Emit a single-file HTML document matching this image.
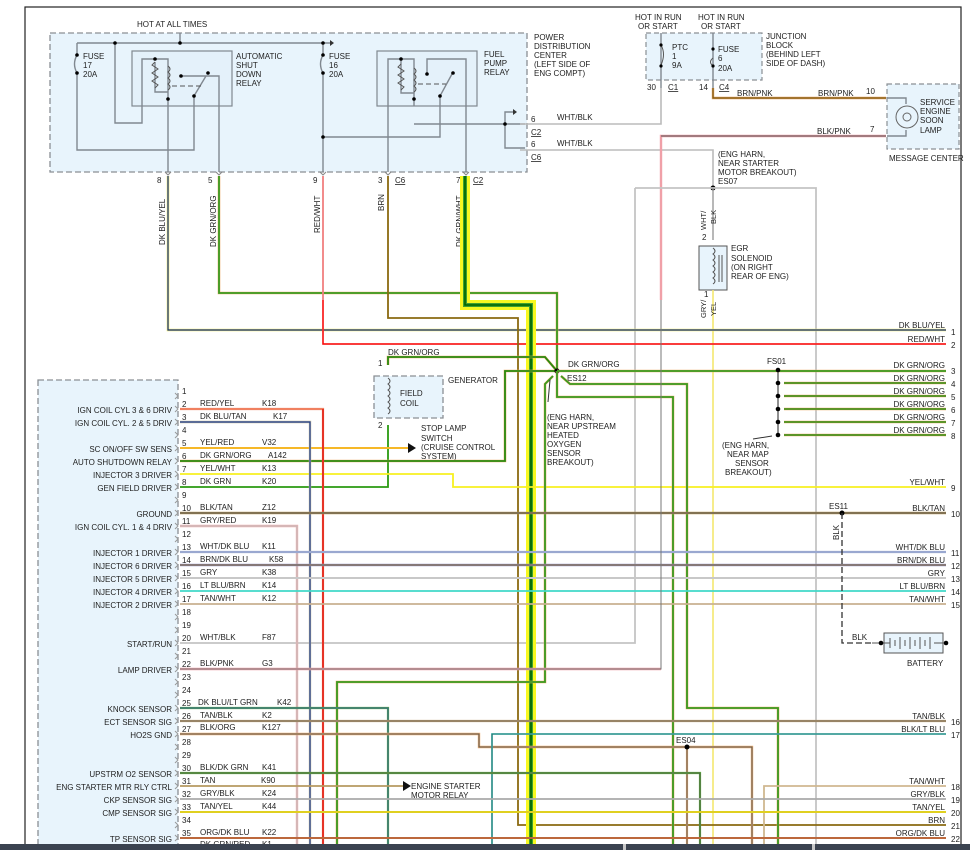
<!DOCTYPE html>
<html><head><meta charset="utf-8"><style>
html,body{margin:0;padding:0;background:#fff}
svg{display:block}
text{font-family:"Liberation Sans",sans-serif;font-size:8px;fill:#222}
.r{text-anchor:end}
.g{stroke:#808890;stroke-width:1.4;fill:none}
.box{fill:#e8f4fc;stroke:#8a8f94;stroke-width:1.3;stroke-dasharray:6,3}
</style></head><body>
<svg width="970" height="850" viewBox="0 0 970 850" xmlns="http://www.w3.org/2000/svg">
<rect x="25" y="7" width="936" height="845" fill="none" stroke="#222" stroke-width="1.2"/>

<!-- PDC -->
<rect class="box" x="50" y="33" width="477" height="139"/>
<text x="137" y="27">HOT AT ALL TIMES</text>
<path class="g" d="M180 33V43M77 43H323M323 43H330M77 43V55M77 73V150H194V106M115 43V123H142V106M323 43V55M323 73V172M323 137H440V106"/>
<path d="M330 40l4 3l-4 3z" fill="#333"/>
<path class="g" d="M77 55q-5 9 0 18M323 55q-5 9 0 18"/>
<circle cx="77" cy="55" r="1.8"/><circle cx="77" cy="73" r="1.8"/><circle cx="115" cy="43" r="1.8"/><circle cx="180" cy="43" r="1.8"/>
<circle cx="323" cy="43" r="1.8"/><circle cx="323" cy="55" r="1.8"/><circle cx="323" cy="73" r="1.8"/><circle cx="323" cy="137" r="1.8"/>
<text x="83" y="59">FUSE</text><text x="83" y="68">17</text><text x="83" y="77">20A</text>
<text x="329" y="59">FUSE</text><text x="329" y="68">16</text><text x="329" y="77">20A</text>
<!-- ASD relay -->
<rect x="132" y="51" width="100" height="55" fill="#e4f1fa" stroke="#808890" stroke-width="1.2"/>
<path class="g" d="M142 106V59H168V106M181 76H219V106M194 106V96L206 76M168 59V66M155 62v30h13"/>
<path d="M155 62l-3 3l6 4l-6 4l6 4l-6 4l6 4l-3 3" fill="none" stroke="#555"/>
<path d="M168 66q4 3 0 6q4 3 0 6q4 3 0 6q4 3 0 6" fill="none" stroke="#555"/>
<path d="M172 86H204" stroke="#555" stroke-dasharray="5,3"/>
<circle cx="155" cy="59" r="1.8"/><circle cx="181" cy="76" r="1.8"/><circle cx="208" cy="73" r="1.8"/><circle cx="194" cy="96" r="1.8"/><circle cx="168" cy="99" r="1.8"/>
<text x="236" y="59">AUTOMATIC</text><text x="236" y="68">SHUT</text><text x="236" y="77">DOWN</text><text x="236" y="86">RELAY</text>
<!-- FP relay -->
<rect x="377" y="51" width="100" height="55" fill="#e4f1fa" stroke="#808890" stroke-width="1.2"/>
<path class="g" d="M388 106V59H414V106M427 74V59H466V106M440 106V96L452 74M414 59V66M401 59v34h13M414 124H525M505 124V112H513M505 124V148H525"/>
<path d="M401 64l-3 3l6 4l-6 4l6 4l-6 4l6 4l-3 3" fill="none" stroke="#555"/>
<path d="M414 68q4 3 0 6q4 3 0 6q4 3 0 6q4 3 0 6" fill="none" stroke="#555"/>
<path d="M418 84H446" stroke="#555" stroke-dasharray="5,3"/>
<path d="M513 109l4 3l-4 3z" fill="#333"/>
<circle cx="401" cy="59" r="1.8"/><circle cx="427" cy="74" r="1.8"/><circle cx="453" cy="73" r="1.8"/><circle cx="440" cy="96" r="1.8"/><circle cx="414" cy="99" r="1.8"/><circle cx="505" cy="124" r="1.8"/>
<text x="484" y="57">FUEL</text><text x="484" y="66">PUMP</text><text x="484" y="75">RELAY</text>
<text x="534" y="40">POWER</text><text x="534" y="49">DISTRIBUTION</text><text x="534" y="58">CENTER</text><text x="534" y="67">(LEFT SIDE OF</text><text x="534" y="76">ENG COMPT)</text>
<path class="g" d="M168 106V172M219 106V172M388 106V172M466 106V172"/>
<g fill="none" stroke="#888" stroke-width="1"><path d="M165 172l3 3l3-3M216 172l3 3l3-3M320 172l3 3l3-3M385 172l3 3l3-3M463 172l3 3l3-3"/></g>
<text x="157" y="183">8</text><text x="208" y="183">5</text><text x="313" y="183">9</text><text x="378" y="183">3</text><text x="395" y="183" text-decoration="underline">C6</text><text x="456" y="183">7</text><text x="473" y="183" text-decoration="underline">C2</text>
<text x="531" y="122">6</text><text x="531" y="135" text-decoration="underline">C2</text><text x="531" y="147">6</text><text x="531" y="160" text-decoration="underline">C6</text>
<text x="557" y="120">WHT/BLK</text><text x="557" y="146">WHT/BLK</text>

<!-- Junction block -->
<path d="M646 33H762V80H646Z" fill="#e8f4fc" stroke="#8a8f94" stroke-dasharray="5,3" stroke-width="1.2"/>
<text x="635" y="20">HOT IN RUN</text><text x="638" y="29">OR START</text>
<text x="698" y="20">HOT IN RUN</text><text x="701" y="29">OR START</text>
<path class="g" d="M661 33V88M713 33V88"/>
<path d="M661 45q5 9 0 20M713 58q-5 4 0 8" fill="none" stroke="#555"/>
<circle cx="661" cy="45" r="1.6"/><circle cx="661" cy="66" r="1.6"/><circle cx="713" cy="49" r="1.6"/><circle cx="713" cy="66" r="1.6"/>
<text x="672" y="50">PTC</text><text x="672" y="59">1</text><text x="672" y="68">9A</text>
<text x="718" y="52">FUSE</text><text x="718" y="61">6</text><text x="718" y="71">20A</text>
<text x="766" y="39">JUNCTION</text><text x="766" y="48">BLOCK</text><text x="766" y="57">(BEHIND LEFT</text><text x="766" y="66">SIDE OF DASH)</text>
<text x="647" y="90">30</text><text x="668" y="90" text-decoration="underline">C1</text><text x="699" y="90">14</text><text x="719" y="90" text-decoration="underline">C4</text>
<path d="M713 88V98H886" fill="none" stroke="#e8a060" stroke-width="2.4"/><path d="M713 88V98H886" fill="none" stroke="#7a5a10" stroke-width="1.2"/>
<text x="737" y="96">BRN/PNK</text><text x="818" y="96">BRN/PNK</text><text x="866" y="94">10</text>
<path d="M661 88V124H520" fill="none" stroke="#bbb" stroke-width="1.6"/>
<path d="M520 150H713V188" fill="none" stroke="#bbb" stroke-width="1.6"/>
<!-- message center -->
<path d="M887 84H959V149H887Z" fill="#e8f4fc" stroke="#8a8f94" stroke-dasharray="5,3" stroke-width="1.2"/>
<path class="g" d="M887 98H906V104M887 136H906V130"/>
<circle cx="907" cy="117" r="11" fill="none" stroke="#666"/><circle cx="907" cy="117" r="4" fill="none" stroke="#666"/>
<text x="920" y="105">SERVICE</text><text x="920" y="114">ENGINE</text><text x="920" y="123">SOON</text><text x="920" y="133">LAMP</text>
<text x="889" y="161">MESSAGE CENTER</text>
<path d="M661 300V136H886" fill="none" stroke="#f0a0a8" stroke-width="2.4"/><path d="M661 136H886" fill="none" stroke="#555" stroke-width="1"/>
<text x="817" y="134">BLK/PNK</text><text x="870" y="132">7</text>
<text x="718" y="157">(ENG HARN,</text><text x="718" y="166">NEAR STARTER</text><text x="718" y="175">MOTOR BREAKOUT)</text><text x="718" y="184">ES07</text>
<circle cx="713" cy="188" r="2.5"/>
<path d="M635 188H816V850M635 188V643H180" fill="none" stroke="#c4c4c4" stroke-width="1.8"/>
<path d="M713 188V240" stroke="#999" stroke-width="1.4"/>
<text transform="translate(706,230) rotate(-90)" style="font-size:7.5px">WHT/</text>
<text transform="translate(716,224) rotate(-90)" style="font-size:7.5px">BLK</text>
<text x="702" y="240">2</text>
<rect x="699" y="246" width="28" height="44" fill="#e8f4fc" stroke="#555"/>
<path d="M713 248q4 3 0 6q4 3 0 6q4 3 0 6q4 3 0 6q4 3 0 6q4 3 0 6" fill="none" stroke="#555"/>
<path d="M719 255V282M722 255V282" stroke="#555"/>
<text x="731" y="251">EGR</text><text x="731" y="261">SOLENOID</text><text x="731" y="270">(ON RIGHT</text><text x="731" y="279">REAR OF ENG)</text>
<text x="704" y="297">1</text>
<path d="M713 290V850" stroke="#f4e870" stroke-width="1.6"/>
<text transform="translate(706,318) rotate(-90)" style="font-size:7.5px">GRY/</text><text transform="translate(716,316) rotate(-90)" style="font-size:7.5px">YEL</text>

<!-- PDC downstream wires -->
<text transform="translate(165,245) rotate(-90)">DK BLU/YEL</text>
<text transform="translate(216,247) rotate(-90)">DK GRN/ORG</text>
<text transform="translate(320,233) rotate(-90)">RED/WHT</text>
<text transform="translate(384,211) rotate(-90)">BRN</text>
<text transform="translate(462,247) rotate(-90)">DK GRN/WHT</text>
<path d="M168 176V330H946" fill="none" stroke="#f4f070" stroke-width="2.6"/><path d="M168 176V330H946" fill="none" stroke="#102a7a" stroke-width="1.2"/>
<path d="M219 176V293H557V371" fill="none" stroke="#f0b070" stroke-width="2.6"/><path d="M219 176V293H557V371" fill="none" stroke="#3a9a20" stroke-width="1.8"/>
<path d="M323 176V344H946" fill="none" stroke="#f08080" stroke-width="1.8"/><path d="M323 300V344H946" fill="none" stroke="#f00" stroke-width="1.2"/>
<path d="M388 176V318H518V825H946" fill="none" stroke="#8a6a10" stroke-width="1.8"/>
<path d="M465 176V305H531V850" fill="none" stroke="#f8f820" stroke-width="10"/>
<path d="M465 176V305H531V850" fill="none" stroke="#40a030" stroke-width="4"/>
<path d="M465 176V305H531V850" fill="none" stroke="#006400" stroke-width="1.6"/>

<!-- generator -->
<path d="M388 365V357H545L557 371" fill="none" stroke="#f0b070" stroke-width="2.6"/><path d="M388 365V357H545L557 371" fill="none" stroke="#2a8a10" stroke-width="1.8"/>
<text x="388" y="355">DK GRN/ORG</text><text x="378" y="366">1</text>
<rect class="box" x="374" y="376" width="69" height="42"/>
<path d="M388 378q4 3 0 6q4 3 0 6q4 3 0 6q4 3 0 6q4 3 0 6q4 3 0 6" fill="none" stroke="#555"/>
<text x="400" y="396">FIELD</text><text x="400" y="406">COIL</text><text x="448" y="383">GENERATOR</text>
<text x="378" y="428">2</text>
<path d="M388 425V487H180" fill="none" stroke="#2a9a10" stroke-width="1.8"/>
<text x="421" y="431">STOP LAMP</text><text x="421" y="441">SWITCH</text><text x="421" y="450">(CRUISE CONTROL</text><text x="421" y="459">SYSTEM)</text>
<path d="M180 448H408" stroke="#f8e020" stroke-width="2"/><path d="M180 448H408" stroke="#f04040" stroke-width="0.6"/>
<path d="M408 443l8 5l-8 5z" fill="#111"/>
<path d="M180 461H505V371H557" fill="none" stroke="#f0b070" stroke-width="2.6"/><path d="M180 461H505V371H557" fill="none" stroke="#2a8a10" stroke-width="1.8"/>
<path d="M180 474H453V487H946" fill="none" stroke="#f8f020" stroke-width="1.8"/>

<!-- ES12 -->
<circle cx="557" cy="371" r="2.6"/>
<text x="568" y="367">DK GRN/ORG</text><text x="567" y="381">ES12</text>
<path d="M557 371H778H946M553 376L545 384V682H337V850M561 376L570 384H687V708H778V850M557 371V397H673V850" fill="none" stroke="#f0b070" stroke-width="2.6"/>
<path d="M557 371H778H946M553 376L545 384V682H337V850M561 376L570 384H687V708H778V850M557 371V397H673V850" fill="none" stroke="#3a9a20" stroke-width="1.8"/>
<path d="M550 380L548 402" stroke="#333"/>
<text x="547" y="420">(ENG HARN,</text><text x="547" y="429">NEAR UPSTREAM</text><text x="547" y="438">HEATED</text><text x="547" y="447">OXYGEN</text><text x="547" y="456">SENSOR</text><text x="547" y="465">BREAKOUT)</text>
<!-- FS01 -->
<text x="767" y="364">FS01</text>
<path d="M778 370V435" stroke="#222" stroke-width="1"/>
<path d="M784 383H946M784 396H946M784 409H946M784 422H946M784 435H946" stroke="#f0b070" stroke-width="2.6"/>
<path d="M784 383H946M784 396H946M784 409H946M784 422H946M784 435H946" stroke="#2a8a10" stroke-width="1.6"/>
<g><circle cx="778" cy="370" r="2.3"/><circle cx="778" cy="383" r="2.3"/><circle cx="778" cy="396" r="2.3"/><circle cx="778" cy="409" r="2.3"/><circle cx="778" cy="422" r="2.3"/><circle cx="778" cy="435" r="2.3"/></g>
<path d="M753 439L772 436" stroke="#333"/>
<text x="722" y="448">(ENG HARN,</text><text x="727" y="457">NEAR MAP</text><text x="735" y="466">SENSOR</text><text x="725" y="475">BREAKOUT)</text>

<!-- PCM -->
<rect class="box" x="38" y="380" width="140" height="475"/>
<g fill="none" stroke="#999" stroke-width="1">
<path d="M175 393l3 3l-3 3M175 406l3 3l-3 3M175 419l3 3l-3 3M175 432l3 3l-3 3M175 445l3 3l-3 3M175 458l3 3l-3 3M175 471l3 3l-3 3M175 484l3 3l-3 3M175 497l3 3l-3 3M175 510l3 3l-3 3M175 523l3 3l-3 3M175 536l3 3l-3 3M175 549l3 3l-3 3M175 562l3 3l-3 3M175 575l3 3l-3 3M175 588l3 3l-3 3M175 601l3 3l-3 3M175 614l3 3l-3 3M175 627l3 3l-3 3M175 640l3 3l-3 3M175 653l3 3l-3 3M175 666l3 3l-3 3M175 679l3 3l-3 3M175 692l3 3l-3 3M175 705l3 3l-3 3M175 718l3 3l-3 3M175 731l3 3l-3 3M175 744l3 3l-3 3M175 757l3 3l-3 3M175 770l3 3l-3 3M175 783l3 3l-3 3M175 796l3 3l-3 3M175 809l3 3l-3 3M175 822l3 3l-3 3M175 835l3 3l-3 3"/>
</g>
<g>
<text x="182" y="394">1</text><text x="182" y="407">2</text><text x="182" y="420">3</text><text x="182" y="433">4</text><text x="182" y="446">5</text><text x="182" y="459">6</text><text x="182" y="472">7</text><text x="182" y="485">8</text><text x="182" y="498">9</text><text x="182" y="511">10</text><text x="182" y="524">11</text><text x="182" y="537">12</text><text x="182" y="550">13</text><text x="182" y="563">14</text><text x="182" y="576">15</text><text x="182" y="589">16</text><text x="182" y="602">17</text><text x="182" y="615">18</text><text x="182" y="628">19</text><text x="182" y="641">20</text><text x="182" y="654">21</text><text x="182" y="667">22</text><text x="182" y="680">23</text><text x="182" y="693">24</text><text x="182" y="706">25</text><text x="182" y="719">26</text><text x="182" y="732">27</text><text x="182" y="745">28</text><text x="182" y="758">29</text><text x="182" y="771">30</text><text x="182" y="784">31</text><text x="182" y="797">32</text><text x="182" y="810">33</text><text x="182" y="823">34</text><text x="182" y="836">35</text>
</g>
<g>
<text class="r" x="172" y="413">IGN COIL CYL 3 &amp; 6 DRIV</text>
<text class="r" x="172" y="426">IGN COIL CYL. 2 &amp; 5 DRIV</text>
<text class="r" x="172" y="452">SC ON/OFF SW SENS</text>
<text class="r" x="172" y="465">AUTO SHUTDOWN RELAY</text>
<text class="r" x="172" y="478">INJECTOR 3 DRIVER</text>
<text class="r" x="172" y="491">GEN FIELD DRIVER</text>
<text class="r" x="172" y="517">GROUND</text>
<text class="r" x="172" y="530">IGN COIL CYL. 1 &amp; 4 DRIV</text>
<text class="r" x="172" y="556">INJECTOR 1 DRIVER</text>
<text class="r" x="172" y="569">INJECTOR 6 DRIVER</text>
<text class="r" x="172" y="582">INJECTOR 5 DRIVER</text>
<text class="r" x="172" y="595">INJECTOR 4 DRIVER</text>
<text class="r" x="172" y="608">INJECTOR 2 DRIVER</text>
<text class="r" x="172" y="647">START/RUN</text>
<text class="r" x="172" y="673">LAMP DRIVER</text>
<text class="r" x="172" y="712">KNOCK SENSOR</text>
<text class="r" x="172" y="725">ECT SENSOR SIG</text>
<text class="r" x="172" y="738">HO2S GND</text>
<text class="r" x="172" y="777">UPSTRM O2 SENSOR</text>
<text class="r" x="172" y="790">ENG STARTER MTR RLY CTRL</text>
<text class="r" x="172" y="803">CKP SENSOR SIG</text>
<text class="r" x="172" y="816">CMP SENSOR SIG</text>
<text class="r" x="172" y="842">TP SENSOR SIG</text>
</g>
<g>
<text x="200" y="406">RED/YEL</text><text x="262" y="406">K18</text>
<text x="200" y="419">DK BLU/TAN</text><text x="273" y="419">K17</text>
<text x="200" y="445">YEL/RED</text><text x="262" y="445">V32</text>
<text x="200" y="458">DK GRN/ORG</text><text x="268" y="458">A142</text>
<text x="200" y="471">YEL/WHT</text><text x="262" y="471">K13</text>
<text x="200" y="484">DK GRN</text><text x="262" y="484">K20</text>
<text x="200" y="510">BLK/TAN</text><text x="262" y="510">Z12</text>
<text x="200" y="523">GRY/RED</text><text x="262" y="523">K19</text>
<text x="200" y="549">WHT/DK BLU</text><text x="262" y="549">K11</text>
<text x="200" y="562">BRN/DK BLU</text><text x="269" y="562">K58</text>
<text x="200" y="575">GRY</text><text x="262" y="575">K38</text>
<text x="200" y="588">LT BLU/BRN</text><text x="262" y="588">K14</text>
<text x="200" y="601">TAN/WHT</text><text x="262" y="601">K12</text>
<text x="200" y="640">WHT/BLK</text><text x="262" y="640">F87</text>
<text x="200" y="666">BLK/PNK</text><text x="262" y="666">G3</text>
<text x="198" y="705">DK BLU/LT GRN</text><text x="277" y="705">K42</text>
<text x="200" y="718">TAN/BLK</text><text x="262" y="718">K2</text>
<text x="200" y="730">BLK/ORG</text><text x="262" y="730">K127</text>
<text x="200" y="770">BLK/DK GRN</text><text x="262" y="770">K41</text>
<text x="200" y="783">TAN</text><text x="261" y="783">K90</text>
<text x="200" y="796">GRY/BLK</text><text x="262" y="796">K24</text>
<text x="200" y="809">TAN/YEL</text><text x="262" y="809">K44</text>
<text x="200" y="835">ORG/DK BLU</text><text x="262" y="835">K22</text>
<text x="200" y="847">DK GRN/RED</text><text x="262" y="847">K1</text>
</g>
<!-- PCM wires -->
<path d="M180 409H323V850" fill="none" stroke="#f08060" stroke-width="2.2"/><path d="M323 409V850" stroke="#e00000" stroke-width="1.2"/>
<path d="M180 422H310V850" fill="none" stroke="#c8c0a0" stroke-width="2.4"/><path d="M180 422H310V850" fill="none" stroke="#1a3a90" stroke-width="1.2"/>
<path d="M180 513H946" stroke="#c0a060" stroke-width="2.4"/><path d="M180 513H946" stroke="#444" stroke-width="1"/>
<path d="M180 526H297V850" fill="none" stroke="#f0b0b0" stroke-width="2.4"/><path d="M180 526H297V850" fill="none" stroke="#bbb" stroke-width="1"/>
<path d="M180 552H946" stroke="#9aa8d0" stroke-width="2.2"/>
<path d="M180 565H946" stroke="#a0a0d0" stroke-width="2.4"/><path d="M180 565H946" stroke="#6a5020" stroke-width="1"/>
<path d="M180 578H946" stroke="#c8c8c8" stroke-width="2"/>
<path d="M180 591H946" stroke="#40d8c8" stroke-width="1.8"/>
<path d="M180 604H946" stroke="#c8b090" stroke-width="1.8"/>
<path d="M180 669H661" stroke="#f0a0a8" stroke-width="2.4"/><path d="M180 669H661V300" fill="none" stroke="#777" stroke-width="1"/>
<path d="M180 708H388V850" fill="none" stroke="#60b040" stroke-width="2.2"/><path d="M180 708H388V850" fill="none" stroke="#2a5a9a" stroke-width="1"/>
<path d="M180 721H946" stroke="#c0a070" stroke-width="2.2"/><path d="M180 721H946" stroke="#555" stroke-width="0.8"/>
<path d="M180 734H479V747H687H752V850" fill="none" stroke="#f0b070" stroke-width="2.4"/><path d="M180 734H479V747H752V850" fill="none" stroke="#555" stroke-width="1"/>
<path d="M492 850V734H946" fill="none" stroke="#40c8c0" stroke-width="1.8"/><path d="M492 850V734H946" fill="none" stroke="#333" stroke-width="0.6"/>
<path d="M687 747V850" stroke="#f0b070" stroke-width="2.2"/><path d="M687 747V850" stroke="#555" stroke-width="1"/>
<circle cx="687" cy="747" r="2.5"/><text x="676" y="743">ES04</text>
<path d="M180 773H700V850" fill="none" stroke="#60b040" stroke-width="2.2"/><path d="M180 773H700V850" fill="none" stroke="#444" stroke-width="0.8"/>
<path d="M180 786H403" stroke="#c8a050" stroke-width="1.8"/><path d="M180 786H403" stroke="#888" stroke-width="0.6"/>
<path d="M403 781l8 5l-8 5z" fill="#111"/>
<text x="411" y="789">ENGINE STARTER</text><text x="411" y="798">MOTOR RELAY</text>
<path d="M764 850V786H946" fill="none" stroke="#d0b890" stroke-width="1.8"/>
<path d="M180 799H946" stroke="#aaa" stroke-width="1.8"/>
<path d="M180 812H946" stroke="#e0d020" stroke-width="2"/>
<path d="M180 838H946" stroke="#f08040" stroke-width="2"/><path d="M180 838H946" stroke="#223" stroke-width="0.6"/>

<!-- ES11 / battery -->
<circle cx="842" cy="513" r="2.5"/><text x="829" y="509">ES11</text>
<path d="M842 513V643H872" fill="none" stroke="#333" stroke-width="1.3" stroke-dasharray="6,3"/>
<text transform="translate(839,540) rotate(-90)">BLK</text>
<text x="852" y="640">BLK</text>
<rect x="884" y="633" width="59" height="20" fill="#e8f4fc" stroke="#555"/>
<path d="M872 643H890M890 638V648M895 640V646M900 637V649M905 640V646M910 637V649M915 640V646M920 637V649M925 640V646M930 637V649M934 643H943" stroke="#555" fill="none"/>
<circle cx="881" cy="643" r="2.3"/><circle cx="946" cy="643" r="2.3"/>
<text x="907" y="666">BATTERY</text>

<!-- right labels -->
<g>
<text class="r" x="945" y="328">DK BLU/YEL</text><text x="951" y="335">1</text>
<text class="r" x="945" y="342">RED/WHT</text><text x="951" y="348">2</text>
<text class="r" x="945" y="368">DK GRN/ORG</text><text x="951" y="374">3</text>
<text class="r" x="945" y="381">DK GRN/ORG</text><text x="951" y="387">4</text>
<text class="r" x="945" y="394">DK GRN/ORG</text><text x="951" y="400">5</text>
<text class="r" x="945" y="407">DK GRN/ORG</text><text x="951" y="413">6</text>
<text class="r" x="945" y="420">DK GRN/ORG</text><text x="951" y="426">7</text>
<text class="r" x="945" y="433">DK GRN/ORG</text><text x="951" y="439">8</text>
<text class="r" x="945" y="485">YEL/WHT</text><text x="951" y="491">9</text>
<text class="r" x="945" y="511">BLK/TAN</text><text x="951" y="517">10</text>
<text class="r" x="945" y="550">WHT/DK BLU</text><text x="951" y="556">11</text>
<text class="r" x="945" y="563">BRN/DK BLU</text><text x="951" y="569">12</text>
<text class="r" x="945" y="576">GRY</text><text x="951" y="582">13</text>
<text class="r" x="945" y="589">LT BLU/BRN</text><text x="951" y="595">14</text>
<text class="r" x="945" y="602">TAN/WHT</text><text x="951" y="608">15</text>
<text class="r" x="945" y="719">TAN/BLK</text><text x="951" y="725">16</text>
<text class="r" x="945" y="732">BLK/LT BLU</text><text x="951" y="738">17</text>
<text class="r" x="945" y="784">TAN/WHT</text><text x="951" y="790">18</text>
<text class="r" x="945" y="797">GRY/BLK</text><text x="951" y="803">19</text>
<text class="r" x="945" y="810">TAN/YEL</text><text x="951" y="816">20</text>
<text class="r" x="945" y="823">BRN</text><text x="951" y="829">21</text>
<text class="r" x="945" y="836">ORG/DK BLU</text><text x="951" y="842">22</text>
</g>
<rect x="0" y="844" width="970" height="6" fill="#3b4350"/>
<rect x="623" y="844" width="3" height="6" fill="#c8c8c8"/><rect x="812" y="844" width="3" height="6" fill="#c8c8c8"/>
</svg>
</body></html>
